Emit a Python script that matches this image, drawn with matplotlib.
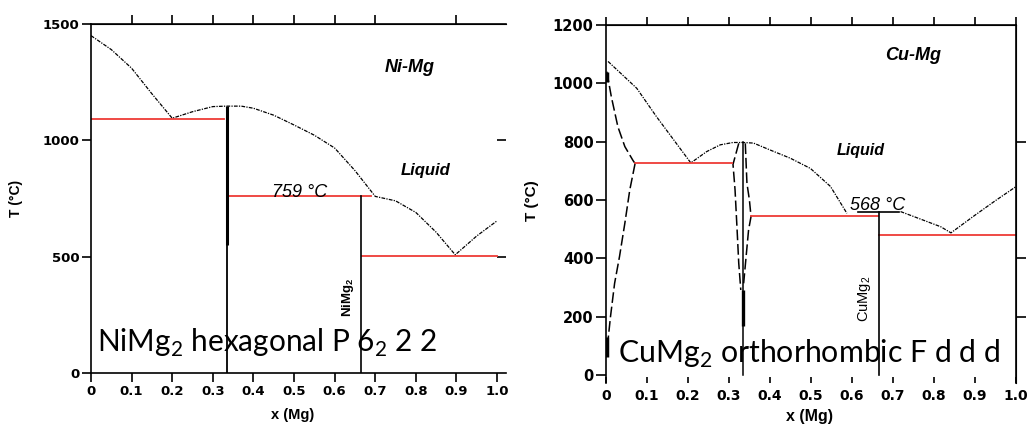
import matplotlib.pyplot as plt

# ---- Ni-Mg data (left) ----
ni_liq_x = [0, 0.05, 0.1, 0.15, 0.2, 0.25, 0.3, 0.333, 0.37, 0.4, 0.45, 0.5, 0.55,
            0.6, 0.65, 0.7, 0.75, 0.8, 0.85, 0.897, 0.95, 1.0]
ni_liq_t = [1450, 1390, 1310, 1200, 1095, 1123, 1145, 1147, 1147, 1138, 1108, 1066, 1022,
            967, 870, 759, 740, 690, 605, 508, 589, 654]
ni_iso_t = [1090, 759, 503]
ni_iso_x0 = [0, 0.335, 0.667]
ni_iso_x1 = [0.328, 0.69, 1.0]
ni_comp_x = [0.334, 0.665]          # NiMg, NiMg2
ni_comp_top = [1147, 759]
ni_thick_bottom = 550

# ---- Cu-Mg data (right) ----
cu_liq_x = [0.005, 0.075, 0.123, 0.207, 0.246, 0.279, 0.31, 0.334, 0.36, 0.401, 0.45,
            0.499, 0.548, 0.588]
cu_liq_t = [1075, 983, 886, 727, 766, 789, 797, 797, 795, 771, 743, 708, 646, 554]
cu_liq2_x = [0.719, 0.77, 0.817, 0.842, 0.9, 0.95, 1.0]
cu_liq2_t = [560, 533, 508, 487, 547, 597, 645]
cu_sol_x = [0.002, 0.013, 0.029, 0.046, 0.066, 0.071]
cu_sol_t = [1040, 954, 851, 783, 735, 725]
cu_solv_x = [0.071, 0.058, 0.046, 0.033, 0.021, 0.011, 0.005]
cu_solv_t = [725, 634, 520, 406, 314, 200, 120]
lav_left_x = [0.324, 0.31, 0.315, 0.32, 0.324, 0.329]
lav_left_t = [794, 722, 634, 497, 383, 291]
lav_right_x = [0.34, 0.344, 0.35, 0.354, 0.348, 0.342, 0.336]
lav_right_t = [794, 657, 600, 543, 497, 406, 314]
cu_iso_t = [725, 545, 480]
cu_iso_x0 = [0.071, 0.354, 0.667]
cu_iso_x1 = [0.308, 0.665, 1.0]
cumg2_top = 560
cumg2_top_x = [0.616, 0.714]

xticks = [0, 0.1, 0.2, 0.3, 0.4, 0.5, 0.6, 0.7, 0.8, 0.9, 1.0]
xlabels = ['0', '0.1', '0.2', '0.3', '0.4', '0.5', '0.6', '0.7', '0.8', '0.9', '1.0']

RED = '#ee3b36'
dash = (0, (3, 1, 1, 1))
longdash = (0, (7, 2.5))
TXT = ['Liberation Sans', 'DejaVu Sans']
BIG = ['Lato', 'DejaVu Sans']

fig = plt.figure(figsize=(10.28, 4.25), dpi=100)

# ================= left panel =================
ax1 = fig.add_axes([91 / 1028, 52 / 425, 415 / 1028, 349 / 425])
ax1.set_xlim(0, 1.022)
ax1.set_ylim(0, 1500)
ax1.plot(ni_liq_x, ni_liq_t, color='black', lw=0.9, ls=dash)
for t, a, b in zip(ni_iso_t, ni_iso_x0, ni_iso_x1):
    ax1.plot([a, b], [t, t], color=RED, lw=1.3)
ax1.plot([ni_comp_x[0]] * 2, [ni_comp_top[0], ni_thick_bottom], color='black', lw=2.2,
         solid_capstyle='butt')
ax1.plot([ni_comp_x[0]] * 2, [ni_thick_bottom, 0], color='black', lw=1.3)
ax1.plot([ni_comp_x[1]] * 2, [ni_comp_top[1], 0], color='black', lw=1.2)

ax1.spines['right'].set_visible(False)
for s in ['left', 'top', 'bottom']:
    ax1.spines[s].set_linewidth(1.2)
ax1.set_xticks(xticks)
ax1.set_xticklabels(xlabels)
ax1.set_yticks([0, 500, 1000, 1500])
ax1.tick_params(direction='out', length=6.5, width=1.2, labelsize=9.5, pad=2)
for lb in ax1.get_xticklabels() + ax1.get_yticklabels():
    lb.set_fontweight('bold')
    lb.set_family('DejaVu Sans')
top1 = ax1.secondary_xaxis('top')
top1.set_xticks([0.1, 0.2, 0.3, 0.4, 0.5, 0.6, 0.7, 0.9])
top1.tick_params(direction='out', length=6.5, width=1.2, labeltop=False)
right1 = ax1.secondary_yaxis('right')
right1.set_yticks([500, 1000])
right1.tick_params(direction='in', length=6.5, width=1.2, labelright=False)
right1.spines['right'].set_visible(False)

ax1.text(0.784, 1311, 'Ni-Mg', family=TXT, fontsize=13, fontweight='bold',
         style='italic', ha='center', va='center')
ax1.text(0.823, 872, 'Liquid', family=TXT, fontsize=12, fontweight='bold',
         style='italic', ha='center', va='center')
ax1.text(0.514, 757, '759 °C', family=TXT, fontsize=13, style='italic',
         ha='center', va='baseline')
ax1.text(0.633, 327, r'NiMg$_{\mathregular{2}}$', family=TXT, fontsize=9.5,
         fontweight='bold', rotation=90, ha='center', va='center')
ax1.text(0.015, 90, r'NiMg$_{\mathregular{2}}$ hexagonal P 6$_{\mathregular{2}}$ 2 2',
         family=BIG, fontsize=21.4, ha='left', va='baseline')
fig.text(16 / 1028, 1 - 198 / 425, 'T (°C)', family=TXT, fontsize=10, fontweight='bold',
         rotation=90, ha='center', va='center')
fig.text(293 / 1028, 1 - 415 / 425, 'x (Mg)', family=TXT, fontsize=10.5, fontweight='bold',
         ha='center', va='center')

# ================= right panel =================
ax2 = fig.add_axes([606 / 1028, 42 / 425, 409.7 / 1028, 358 / 425])
ax2.set_xlim(0, 1.0)
ax2.set_ylim(-28, 1200)
ax2.plot(cu_liq_x, cu_liq_t, color='black', lw=0.9, ls=dash)
ax2.plot(cu_liq2_x, cu_liq2_t, color='black', lw=0.9, ls=dash)
ax2.plot(cu_sol_x, cu_sol_t, color='black', lw=1.1, ls=longdash)
ax2.plot(cu_solv_x, cu_solv_t, color='black', lw=1.1, ls=longdash)
ax2.plot(lav_left_x, lav_left_t, color='black', lw=1.1, ls=longdash)
ax2.plot(lav_right_x, lav_right_t, color='black', lw=1.1, ls=longdash)
ax2.plot([0.003, 0.003], [1040, 1005], color='black', lw=2.5, solid_capstyle='butt')
ax2.plot([0.003, 0.003], [130, 60], color='black', lw=2.5, solid_capstyle='butt')
ax2.plot([0.334, 0.334], [797, 0], color='black', lw=1.1)
ax2.plot([0.334, 0.334], [291, 166], color='black', lw=2.4, solid_capstyle='butt')
for t, a, b in zip(cu_iso_t, cu_iso_x0, cu_iso_x1):
    ax2.plot([a, b], [t, t], color=RED, lw=1.3)
ax2.plot(cumg2_top_x, [cumg2_top, cumg2_top], color='black', lw=1.2)
ax2.plot([0.666, 0.666], [cumg2_top, 0], color='black', lw=1.2)

ax2.spines['bottom'].set_visible(False)
for s in ['left', 'top', 'right']:
    ax2.spines[s].set_linewidth(1.2)
ax2.set_xticks(xticks)
ax2.set_xticklabels(xlabels)
ax2.set_yticks([0, 200, 400, 600, 800, 1000, 1200])
ax2.tick_params(axis='y', direction='out', length=7, width=1.2, labelsize=10.5, pad=2)
ax2.tick_params(axis='x', direction='in', length=4.5, width=1.2, labelsize=10, pad=4)
for lb in ax2.get_xticklabels() + ax2.get_yticklabels():
    lb.set_fontweight('bold')
    lb.set_family('DejaVu Sans')
top2 = ax2.secondary_xaxis('top')
top2.set_xticks(xticks)
top2.tick_params(direction='out', length=6, width=1.2, labeltop=False)
right2 = ax2.secondary_yaxis('right')
right2.set_yticks([200, 400, 800])
right2.tick_params(direction='out', length=7, width=1.2, labelright=False)

ax2.text(0.749, 1097, 'Cu-Mg', family=TXT, fontsize=13, fontweight='bold',
         style='italic', ha='center', va='center')
ax2.text(0.622, 769, 'Liquid', family=TXT, fontsize=11.5, fontweight='bold',
         style='italic', ha='center', va='center')
ax2.text(0.664, 566, '568 °C', family=TXT, fontsize=13, style='italic',
         ha='center', va='baseline')
ax2.text(0.63, 261, r'CuMg$_{\mathregular{2}}$', family=TXT, fontsize=10.5,
         rotation=90, ha='center', va='center')
ax2.text(0.029, 41, r'CuMg$_{\mathregular{2}}$ orthorhombic F d d d',
         family=BIG, fontsize=21.8, ha='left', va='baseline')
fig.text(532 / 1028, 1 - 201 / 425, 'T (°C)', family=TXT, fontsize=11, fontweight='bold',
         rotation=90, ha='center', va='center')
fig.text(810 / 1028, 1 - 416 / 425, 'x (Mg)', family=TXT, fontsize=11.5, fontweight='bold',
         ha='center', va='center')

fig.savefig('out.png', dpi=100)
